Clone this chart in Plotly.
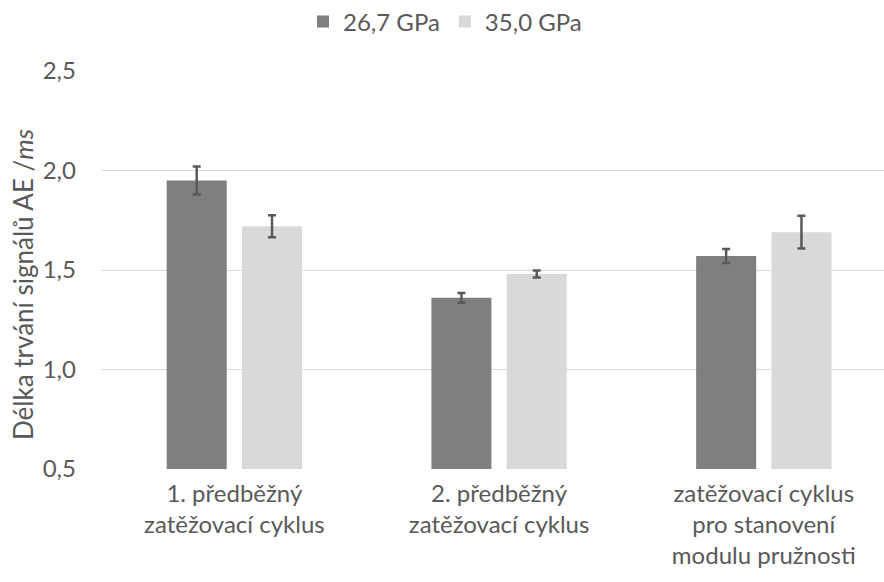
import plotly.graph_objects as go

categories = ["1. předběžný<br>zatěžovací cyklus",
              "2. předběžný<br>zatěžovací cyklus",
              "zatěžovací cyklus<br>pro stanovení<br>modulu pružnosti"]
series_names = ["26,7 GPa", "35,0 GPa"]
values_267 = [1.95, 1.36, 1.57]
errors_267 = [0.07, 0.025, 0.035]
values_350 = [1.72, 1.48, 1.69]
errors_350 = [0.055, 0.018, 0.082]
y_ticks = [0.5, 1.0, 1.5, 2.0, 2.5]
y_tick_labels = ["0,5", "1,0", "1,5", "2,0", "2,5"]

FONT = "Lato"
TXT = "#595959"
L, T, B = 102, 71, 113
PW, PH = 884 - L, 582 - T - B

fig = go.Figure()
for name, vals, errs, col in [(series_names[0], values_267, errors_267, "#7f7f7f"),
                              (series_names[1], values_350, errors_350, "#d9d9d9")]:
    fig.add_trace(go.Bar(
        x=categories, y=vals, name=name,
        marker=dict(color=col, line=dict(width=0)),
        error_y=dict(type="data", array=errs, visible=True,
                     color="#595959", thickness=2.5, width=4),
    ))

fig.update_layout(
    width=884, height=582,
    margin=dict(l=L, r=0, t=T, b=B, autoexpand=False),
    paper_bgcolor="white", plot_bgcolor="white",
    barmode="group", bargap=0.431, bargroupgap=0.203,
    font=dict(family=FONT, size=24, color=TXT),
    showlegend=True,
    legend=dict(orientation="h", xref="paper", yref="paper",
                x=(303 - L) / PW, xanchor="left", y=1 + (T - 22) / PH, yanchor="middle",
                font=dict(size=24, color=TXT), traceorder="normal",
                itemwidth=30),
    xaxis=dict(type="category", range=[-0.5, 2.454], showgrid=False,
               showline=False, ticks="", ticklabelstandoff=8, automargin=False,
               tickfont=dict(size=24, color=TXT)),
    yaxis=dict(range=[0.5, 2.5], tickvals=y_ticks, ticktext=y_tick_labels,
               showgrid=True, gridcolor="#d9d9d9", gridwidth=1.3,
               zeroline=False, showline=False, ticks="", automargin=False,
               ticklabelstandoff=25, tickfont=dict(size=24, color=TXT)),
    annotations=[dict(text="Délka trvání signálů AE /<i>ms</i>", textangle=-90,
                      xref="paper", yref="paper", x=(23 - L) / PW, y=(469 - 285) / PH,
                      xanchor="center", yanchor="middle", showarrow=False,
                      font=dict(size=26, color=TXT, family=FONT))],
)
fig.write_html("out.html", config={"displayModeBar": False},
               post_script="document.body.style.margin='0px';")
